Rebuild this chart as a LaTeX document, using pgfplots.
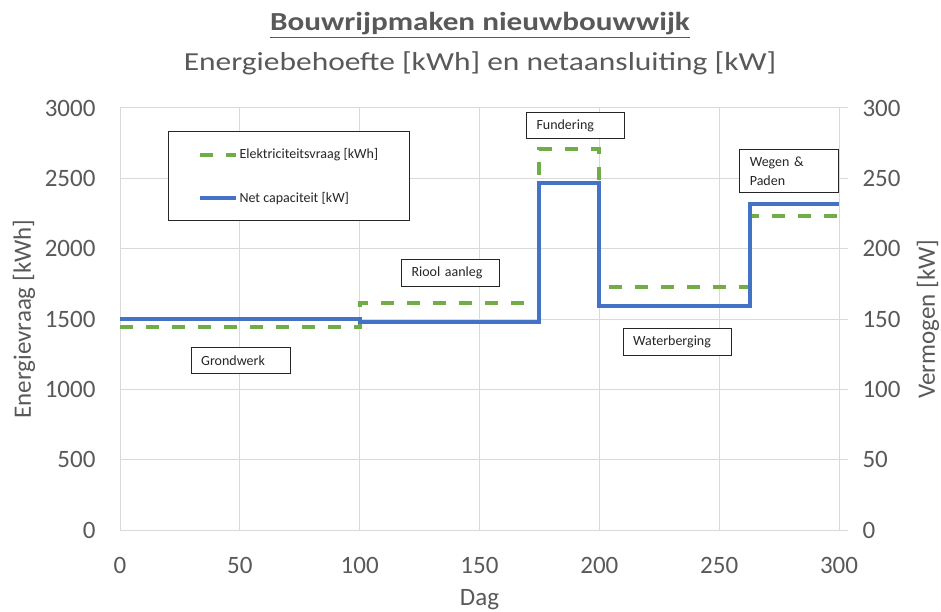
\documentclass[border=0pt]{standalone}
\usepackage{pgfplots}
\pgfplotsset{compat=1.18}
\usepackage{fontspec}
\setmainfont{Carlito}
\definecolor{txt}{HTML}{595959}
\definecolor{gridc}{HTML}{D9D9D9}
\definecolor{grn}{HTML}{70AD47}
\definecolor{blu}{HTML}{4472C4}
\definecolor{boxtxt}{HTML}{262626}
\begin{document}
\begin{tikzpicture}[x=1pt,y=1pt,
  ann/.style={draw=black!85, line width=1pt, fill=white, anchor=north west,
    font=\fontsize{14}{18.5}\selectfont, text=boxtxt, inner xsep=10pt, align=left}]
\useasboundingbox (0,0) rectangle (941,611);
\begin{axis}[
  at={(120pt,81pt)}, anchor=south west, scale only axis, width=719pt, height=422pt,
  xmin=0, xmax=300, ymin=0, ymax=3000,
  xtick={0,50,...,300}, ytick={0,500,...,3000},
  grid=major, major grid style={gridc, line width=1pt},
  axis line style={gridc, line width=1pt},
  major tick length=0pt,
  tick label style={font=\fontsize{25}{30}\selectfont, text=txt},
  /pgf/number format/assume math mode=true,
  /pgf/number format/1000 sep={},
  yticklabel style={xshift=-21pt},
  xticklabel style={yshift=-24pt},
  xlabel={Dag}, ylabel={Energievraag [kWh]},
  label style={font=\fontsize{25}{30}\selectfont, text=txt},
  xlabel style={at={(axis description cs:0.5,-0.166)}, anchor=center},
  ylabel style={at={(axis description cs:-0.1335,0.5)}, anchor=center},
  legend style={at={(axis description cs:0.0668,0.945)}, anchor=north west,
    draw=black!85, line width=1pt, fill=white, font=\fontsize{14}{16}\selectfont, text=boxtxt,
    inner xsep=29pt, inner ysep=15pt, row sep=28pt, nodes={inner sep=2pt}, cells={anchor=west}},
  legend image code/.code={\draw[#1] (0pt,0pt) -- (36pt,0pt);},
]
\addplot[grn, line width=4pt, dash pattern=on 13pt off 13pt] coordinates {
  (0,1440) (100,1440) (100,1615) (175,1615) (175,2710) (200,2710)
  (200,1725) (263,1725) (263,2230) (300,2230)};
\addlegendentry{Elektriciteitsvraag [kWh]}
\addlegendimage{blu, line width=4pt}
\addlegendentry{Net capaciteit [kW]}
\end{axis}
\begin{axis}[
  at={(120pt,81pt)}, anchor=south west, scale only axis, width=719pt, height=422pt,
  xmin=0, xmax=300, ymin=0, ymax=300,
  axis y line*=right, axis x line=none,
  ytick={0,50,...,300},
  y axis line style={gridc, line width=1pt},
  ytick style={gridc, line width=1pt},
  major tick length=9pt, tick align=outside,
  tick label style={font=\fontsize{25}{30}\selectfont, text=txt},
  /pgf/number format/assume math mode=true,
  yticklabel style={xshift=11pt},
  ylabel={Vermogen [kW]},
  label style={font=\fontsize{25}{30}\selectfont, text=txt},
  ylabel style={at={(axis description cs:1.1238,0.5)}, anchor=center},
]
\addplot[blu, line width=4pt] coordinates {
  (0,150) (100,150) (100,148) (175,148) (175,246.5) (200,246.5)
  (200,159) (263,159) (263,232) (300,232)};
\end{axis}
\node[font=\bfseries\fontsize{26}{30}\selectfont, text=txt] at (480,586) {\scalebox{1.2}[1]{\underline{Bouwrijpmaken nieuwbouwwijk}}};
\node[font=\fontsize{26}{30}\selectfont, text=txt] at (480,548) {\scalebox{1.21}[1]{Energiebehoefte [kWh] en netaansluiting [kW]}};
\node[ann, text width=79pt, minimum height=26pt] at (190.7,264.3) {Grondwerk};
\node[ann, text width=78pt, minimum height=27pt] at (401,351.7) {Riool aanleg};
\node[ann, text width=78pt, minimum height=26pt] at (526,498.5) {Fundering};
\node[ann, text width=88pt, minimum height=27pt] at (622.7,283.3) {Waterberging};
\node[ann, text width=78.4pt, minimum height=43pt, inner ysep=3pt] at (739.3,461.7) {Wegen \&\\Paden};
\end{tikzpicture}
\end{document}
